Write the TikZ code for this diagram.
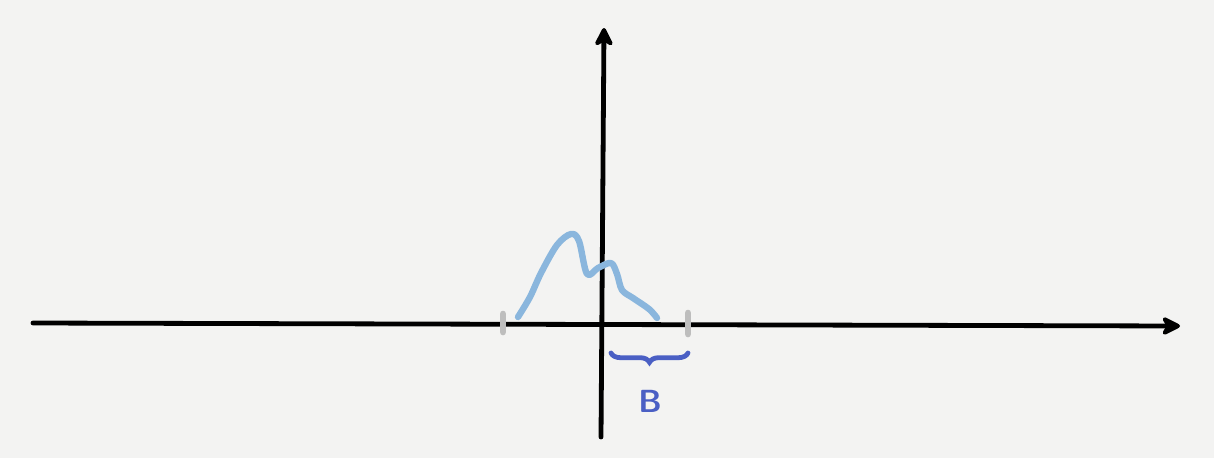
\documentclass[tikz,border=0pt]{standalone}
\usetikzlibrary{arrows.meta,decorations.pathreplacing}

\definecolor{paper}{HTML}{F3F3F2}
\definecolor{curveblue}{HTML}{8AB6DD}
\definecolor{braceblue}{HTML}{4A5FC4}
\definecolor{tickgrey}{HTML}{BDBDBD}

\begin{document}
\begin{tikzpicture}[
                x=0.75pt, y=-0.75pt,
                axis/.style={line width=3.6pt, line cap=round,
                        -{Stealth[length=17pt, width=17pt, inset=5pt, round]}},
                spectrum/.style={curveblue, line width=4.8pt,
                        line cap=round, line join=round},
                bandtick/.style={tickgrey, line width=5pt, line cap=round},
                bandbrace/.style={braceblue, line width=3.6pt, line cap=round,
                        decorate,
                        decoration={brace, amplitude=7pt, mirror}},
                bandlabel/.style={braceblue, font=\sffamily\bfseries\fontsize{24}{26}\selectfont}
            ]

            \fill[paper] (0, 0) rectangle (1214, 458);
            \useasboundingbox (0, 0) rectangle (1214, 458);

            % axes
            \coordinate (xl) at (33, 323);
            \coordinate (xr) at (1180, 326);
            \coordinate (yb) at (601, 437);
            \coordinate (yt) at (604, 28);
            \draw[axis] (xl) -- (xr);
            \draw[axis] (yb) -- (yt);

            % band edges
            \coordinate (lt) at (503, 314);
            \coordinate (lb) at (503, 332);
            \coordinate (rt) at (688, 313);
            \coordinate (rb) at (688, 334);
            \draw[bandtick] (lt) -- (lb);
            \draw[bandtick] (rt) -- (rb);

            % spectrum
            \draw[spectrum] plot[smooth, tension=0.55] coordinates {
                    (518, 317) (530, 297) (541, 273) (557, 245)
                    (571, 234) (579, 241) (587, 274) (598, 268)
                    (611, 263) (617, 274) (622, 290) (633, 298)
                    (649, 309) (657, 318)
                };

            % bandwidth
            \coordinate (bl) at (611, 353);
            \coordinate (br) at (688, 353);
            \draw[bandbrace] (bl) -- (br);
            \node[bandlabel] (blabel) at (650, 401) {B};

        \end{tikzpicture}
\end{document}
